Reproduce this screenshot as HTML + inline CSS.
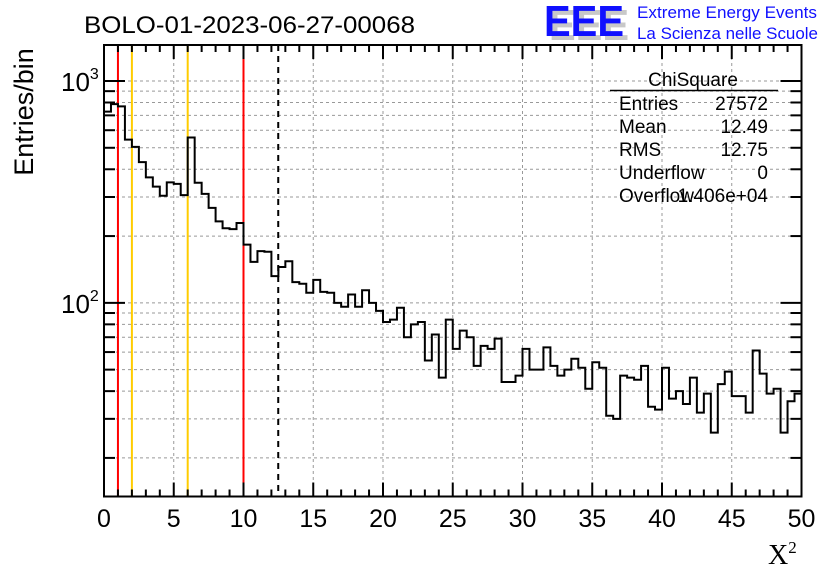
<!DOCTYPE html>
<html><head><meta charset="utf-8"><style>
html,body{margin:0;padding:0;background:#fff;}
svg{display:block;font-family:"Liberation Sans",sans-serif;}
</style></head><body>
<svg id="c" width="836" height="572" viewBox="0 0 836 572">
<rect width="836" height="572" fill="#fff"/>
<text x="84" y="33" font-size="24" textLength="331" lengthAdjust="spacingAndGlyphs">BOLO-01-2023-06-27-00068</text>
<g>
<text x="549" y="40" font-size="44" font-weight="bold" fill="#c8c8c8" textLength="80" lengthAdjust="spacingAndGlyphs">EEE</text>
<text x="544" y="36" font-size="44" font-weight="bold" fill="#1010ff" textLength="80" lengthAdjust="spacingAndGlyphs">EEE</text>
<text x="637" y="18" font-size="17" fill="#1010ff" textLength="180" lengthAdjust="spacingAndGlyphs">Extreme Energy Events</text>
<text x="637" y="39" font-size="17" fill="#1010ff" textLength="181" lengthAdjust="spacingAndGlyphs">La Scienza nelle Scuole</text>
</g>
<text transform="translate(33,112) rotate(-90)" text-anchor="middle" font-size="27">Entries/bin</text>
<text x="768" y="564" font-family="Liberation Serif,serif" font-size="28">X<tspan font-size="17" dy="-11">2</tspan></text>
<g id="grid"></g><g id="lines"></g><g id="hist"></g><g id="axes"></g>
<g font-size="19">
<text x="693" y="86" text-anchor="middle">ChiSquare</text>
<line x1="610" y1="90.5" x2="778" y2="90.5" stroke="#000" stroke-width="1.5"/>
<text x="619" y="110">Entries</text><text x="768" y="110" text-anchor="end">27572</text>
<text x="619" y="133">Mean</text><text x="768" y="133" text-anchor="end">12.49</text>
<text x="619" y="156">RMS</text><text x="768" y="156" text-anchor="end">12.75</text>
<text x="619" y="179">Underflow</text><text x="768" y="179" text-anchor="end">0</text>
<text x="619" y="202">Overflow</text><text x="768" y="202" text-anchor="end">1.406e+04</text>
</g>
</svg>
<script>
const binCounts=[728,787,768,544,505,431,368,334,304,349,344,306,556,348,310,268,233,217,215,229,
183,153,171,170,132,145,154,124,122,111,127,112,111,100,96,109,96,114,100,92,
82,84,95,70,80,82,55,72,46,84,62,75,70,52,64,62,69,44,44,47,
62,50,50,63,52,47,50,56,51,41,54,51,31,30,47,46,45,52,34,33,
51,37,40,35,46,32,39,26,43,49,38,38,32,61,48,39,41,26,36,39];
const xRange=[0,50];
const yRange=[13.4,1453];
const xTickLabels=[0,5,10,15,20,25,30,35,40,45,50];
const redLines=[1,10];
const orangeLines=[2,6];
const meanValue=12.49;
const L=104,R=801.5,T=45,B=496.5;
const NS='http://www.w3.org/2000/svg';
function X(v){return L+(v-xRange[0])/(xRange[1]-xRange[0])*(R-L);}
function Y(v){return B-(Math.log10(v)-Math.log10(yRange[0]))/(Math.log10(yRange[1])-Math.log10(yRange[0]))*(B-T);}
function mk(tag,attrs,parent){const e=document.createElementNS(NS,tag);for(const k in attrs)e.setAttribute(k,attrs[k]);parent.appendChild(e);return e;}
const grid=document.getElementById('grid'),lines=document.getElementById('lines'),hist=document.getElementById('hist'),axes=document.getElementById('axes');
for(let v=5;v<50;v+=5){const g=mk('line',{x1:X(v),x2:X(v),y1:T,y2:B,stroke:'#999','stroke-dasharray':'3,3','stroke-width':1},grid);

}
const yGridVals=[];
for(const d of [10,100,1000])for(let m=1;m<=9;m++){const v=m*d;if(v>yRange[0]&&v<yRange[1])yGridVals.push(v);}
yGridVals.forEach(v=>{const g=mk('line',{x1:L,x2:R,y1:Y(v),y2:Y(v),stroke:'#999','stroke-dasharray':'3,3','stroke-width':1},grid);

});
redLines.forEach(v=>{const l=mk('line',{x1:X(v),x2:X(v),y1:T,y2:B,stroke:'#ff0000','stroke-width':2},lines);

});
orangeLines.forEach(v=>{const l=mk('line',{x1:X(v),x2:X(v),y1:T,y2:B,stroke:'#ffcc00','stroke-width':2},lines);

});
const ml=mk('line',{x1:X(meanValue),x2:X(meanValue),y1:T,y2:B,stroke:'#000','stroke-width':2,'stroke-dasharray':'6,5'},lines);


const bw=(xRange[1]-xRange[0])/binCounts.length;
let d='M'+X(0)+','+Y(binCounts[0]);
binCounts.forEach((c,i)=>{d+=' L'+X(i*bw)+','+Y(c)+' L'+X((i+1)*bw)+','+Y(c);});
const hp=mk('path',{d:d,fill:'none',stroke:'#000','stroke-width':2},hist);


const fr=mk('rect',{x:L,y:T,width:R-L,height:B-T,fill:'none',stroke:'#000','stroke-width':2},axes);


for(let v=0;v<=50;v++){const len=v%5===0?14:7;
mk('line',{x1:X(v),x2:X(v),y1:B,y2:B-len,stroke:'#000','stroke-width':2},axes);
mk('line',{x1:X(v),x2:X(v),y1:T,y2:T+len,stroke:'#000','stroke-width':2},axes);}
xTickLabels.forEach(v=>{const t=mk('text',{x:X(v),y:527,'text-anchor':'middle','font-size':25},axes);t.textContent=v;

});
yGridVals.forEach(v=>{const major=(v===100||v===1000);const len=major?21:11;
mk('line',{x1:L,x2:L+len,y1:Y(v),y2:Y(v),stroke:'#000','stroke-width':2},axes);
mk('line',{x1:R,x2:R-len,y1:Y(v),y2:Y(v),stroke:'#000','stroke-width':2},axes);});
[[100,'2'],[1000,'3']].forEach(([v,e])=>{const t=mk('text',{x:61,y:Y(v)+10,'font-size':26},axes);
t.innerHTML='10<tspan font-size="16" dy="-12">'+e+'</tspan>';

});
</script>
</body></html>
